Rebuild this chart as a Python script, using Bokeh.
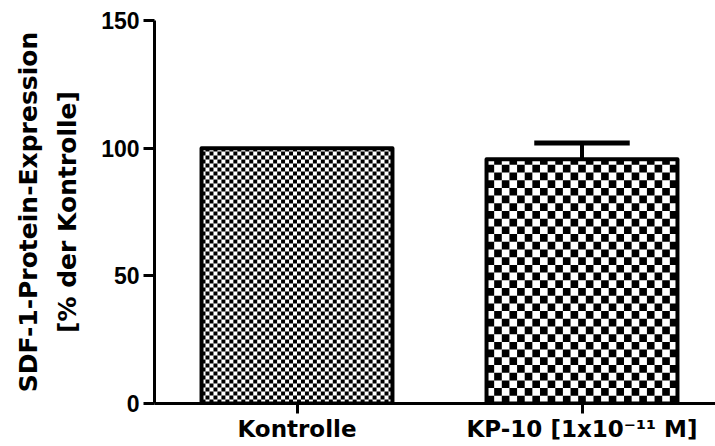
import numpy as np
from bokeh.plotting import figure
from bokeh.models import FixedTicker, Range1d
from bokeh.embed import file_html
from bokeh.resources import INLINE

# ---- data ----
categories = ["Kontrolle", "KP-10 [1x10\u207b\u00b9\u00b9 M]"]
values = [100.0, 95.7]
errors = [0.0, 6.3]
y_ticks = [0, 50, 100, 150]
y_label = "SDF-1-Protein-Expression\n[% der Kontrolle]"

# ---- style ----
cell_px = [4.0, 7.7]
W, H = 715, 446
ML, MR, MT, MB = 154, 0, 20, 43
bar_w = 0.67
x_start = 0.5
y_start, y_end = 0, 150
fw = W - ML - MR
fh = H - MT - MB
pxx = 285.0
x_end = x_start + fw / pxx

xs = np.arange(1, len(categories) + 1, dtype=float)

p = figure(width=W, height=H, x_range=Range1d(x_start, x_end), y_range=Range1d(y_start, y_end),
           output_backend="svg", toolbar_location=None,
           min_border_left=ML, min_border_right=MR, min_border_top=MT, min_border_bottom=MB)
p.outline_line_color = None
p.xgrid.visible = False
p.ygrid.visible = False
p.background_fill_color = "white"
p.border_fill_color = "white"

pxy = fh / (y_end - y_start)

# checker cells
l0, r0, b0, t0 = [], [], [], []
for xi, v, c in zip(xs, values, cell_px):
    left = xi - bar_w / 2
    ncol = int(round(bar_w * pxx / c))
    cw = bar_w / ncol
    ch = c / pxy
    nrow = int(np.ceil(v / ch))
    for i in range(nrow):
        for j in range(ncol):
            if (i + j) % 2 == 0:
                l0.append(left + j * cw)
                r0.append(left + (j + 1) * cw)
                b0.append(i * ch)
                t0.append(min((i + 1) * ch, v))

p.quad(left=xs - bar_w / 2, right=xs + bar_w / 2, bottom=0, top=values,
       fill_color="white", line_color=None)
p.quad(left=l0, right=r0, bottom=b0, top=t0, fill_color="black", line_color=None)

# error bars (upper only)
ex = [x for x, e in zip(xs, errors) if e > 0]
ev = [v for v, e in zip(values, errors) if e > 0]
ee = [v + e for v, e in zip(values, errors) if e > 0]
cap = bar_w / 4
p.segment(x0=ex, y0=ev, x1=ex, y1=ee, line_color="black", line_width=4)
p.segment(x0=[x - cap for x in ex], y0=ee, x1=[x + cap for x in ex], y1=ee,
          line_color="black", line_width=5)

p.quad(left=xs - bar_w / 2, right=xs + bar_w / 2, bottom=0, top=values,
       fill_color=None, line_color="black", line_width=4, line_join="round")

# axes
p.xaxis.ticker = FixedTicker(ticks=list(xs))
p.xaxis.major_label_overrides = {float(x): c for x, c in zip(xs, categories)}
p.xaxis.major_label_overrides.update({int(x): c for x, c in zip(xs, categories)})
p.xaxis.axis_line_width = 3
p.xaxis.major_tick_line_width = 3
p.xaxis.major_tick_out = 10
p.xaxis.major_tick_in = 0
p.xaxis.minor_tick_line_color = None
p.xaxis.major_label_standoff = 2
p.xaxis.major_label_text_font = "DejaVu Sans"
p.xaxis.major_label_text_font_style = "bold"
p.xaxis.major_label_text_font_size = "23px"
p.xaxis.major_label_text_color = "black"

p.yaxis.ticker = FixedTicker(ticks=y_ticks)
p.yaxis.axis_line_width = 3
p.yaxis.major_tick_line_width = 3
p.yaxis.major_tick_out = 11
p.yaxis.major_tick_in = 0
p.yaxis.minor_tick_line_color = None
p.yaxis.major_label_standoff = 4
p.yaxis.major_label_text_font = "Liberation Sans"
p.yaxis.major_label_text_font_style = "bold"
p.yaxis.major_label_text_font_size = "23px"
p.yaxis.major_label_text_color = "black"
p.yaxis.axis_label = y_label
p.yaxis.axis_label_text_font = "DejaVu Sans"
p.yaxis.axis_label_text_font_style = "bold"
p.yaxis.axis_label_text_font_size = "25px"
p.yaxis.axis_label_text_line_height = 1.35
p.yaxis.axis_label_text_color = "black"
p.yaxis.axis_label_standoff = 16

open("out.html", "w").write(file_html(p, INLINE))
